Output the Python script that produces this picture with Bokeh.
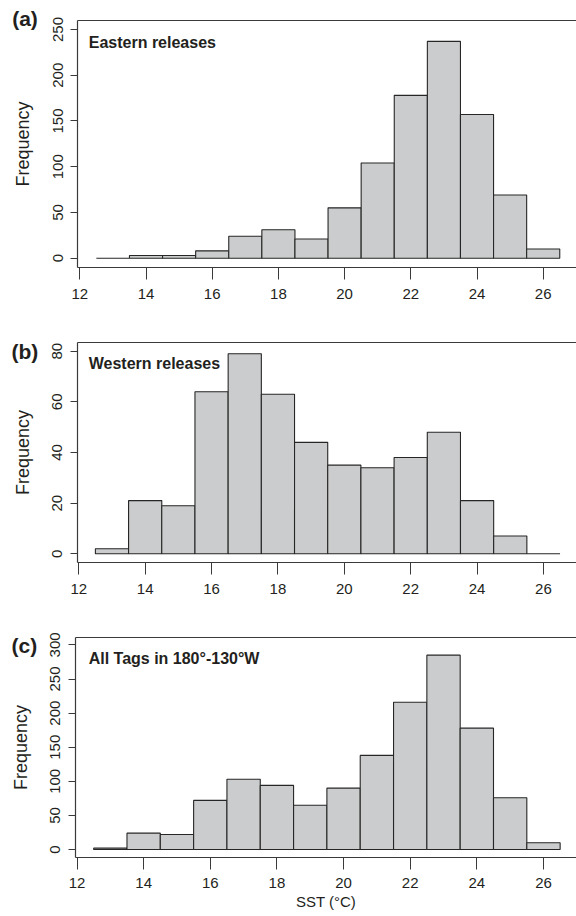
from bokeh.plotting import figure
from bokeh.layouts import column
from bokeh.models import Range1d, FixedTicker, Label, LinearAxis
from bokeh.embed import file_html
from bokeh.resources import INLINE

# SST bins (deg C): left and right edges
bin_left = [12.5, 13.5, 14.5, 15.5, 16.5, 17.5, 18.5, 19.5, 20.5, 21.5, 22.5, 23.5, 24.5, 25.5]
bin_right = [13.5, 14.5, 15.5, 16.5, 17.5, 18.5, 19.5, 20.5, 21.5, 22.5, 23.5, 24.5, 25.5, 26.5]

# Frequencies
east = [0, 3, 3, 8, 24, 31, 21, 55, 104, 178, 237, 157, 69, 10]
west = [2, 21, 19, 64, 79, 63, 44, 35, 34, 38, 48, 21, 7, 0]
alltags = [2, 24, 22, 72, 103, 94, 65, 90, 138, 216, 285, 178, 76, 10]

x_ticks = [12, 14, 16, 18, 20, 22, 24, 26]
y_ticks_a = [0, 50, 100, 150, 200, 250]
y_ticks_b = [0, 20, 40, 60, 80]
y_ticks_c = [0, 50, 100, 150, 200, 250, 300]

FONT = "Liberation Sans"
TXT = "#231f20"
LINE = "#3a3a3a"
FILL = "#cbcccd"
EDGE = "#262626"
W = 576


def panel(counts, yticks, xr, yr, box_x, box_y, height, letter, title,
          letter_xy, title_xy, xlabel=None):
    p = figure(width=W, height=height,
               x_range=Range1d(*xr), y_range=Range1d(*yr),
               x_axis_location=None, y_axis_location=None,
               output_backend="svg", toolbar_location=None,
               min_border=0)
    p.outline_line_color = None
    p.background_fill_color = "white"
    p.border_fill_color = "white"
    p.xgrid.visible = False
    p.ygrid.visible = False

    p.quad(left=bin_left, right=bin_right, bottom=0, top=counts,
           fill_color=FILL, line_color=EDGE, line_width=1.1)

    xax = LinearAxis(fixed_location=box_y[0], bounds=(box_x, xr[1]),
                     ticker=FixedTicker(ticks=x_ticks))
    yax = LinearAxis(fixed_location=box_x, bounds=box_y,
                     ticker=FixedTicker(ticks=yticks))
    top = LinearAxis(fixed_location=box_y[1], bounds=(box_x, xr[1]),
                     ticker=FixedTicker(ticks=[]),
                     major_label_text_font_size="0px",
                     major_tick_out=0, minor_tick_out=0)
    for ax in (xax, yax, top):
        ax.axis_line_color = LINE
        ax.axis_line_width = 1.2
        ax.major_tick_line_color = LINE
        ax.major_tick_line_width = 1
        ax.minor_tick_line_color = None
        ax.major_tick_in = 0
        ax.minor_tick_in = 0
        ax.major_label_text_font = FONT
        ax.major_label_text_color = TXT
        ax.axis_label_text_font = FONT
        ax.axis_label_text_font_style = "normal"
        ax.axis_label_text_color = TXT
    top.major_label_text_font_size = "0px"

    xax.major_label_text_font_size = "15px"
    xax.major_tick_out = 12
    xax.major_label_standoff = 9
    if xlabel:
        xax.axis_label = xlabel
        xax.axis_label_text_font_size = "15px"
        xax.axis_label_standoff = 1

    yax.major_label_text_font_size = "15px"
    yax.major_tick_out = 7
    yax.major_label_standoff = 8
    yax.major_label_orientation = "parallel"
    yax.axis_label = "Frequency"
    yax.axis_label_text_font_size = "18px"
    yax.axis_label_standoff = 17

    p.add_layout(xax, "below")
    p.add_layout(yax, "left")
    p.add_layout(top, "above")

    p.add_layout(Label(x=letter_xy[0], y=letter_xy[1], text=letter,
                       text_font=FONT, text_font_size="21px",
                       text_font_style="bold", text_color=TXT,
                       text_align="left", text_baseline="middle"))
    p.add_layout(Label(x=title_xy[0], y=title_xy[1], text=title,
                       text_font=FONT, text_font_size="16px",
                       text_font_style="bold", text_color=TXT,
                       text_align="left", text_baseline="middle"))
    return p


# panel (a): 33.1 px per deg, 0.9148 px per count
pa = panel(east, y_ticks_a,
           (9.604, 9.604 + W / 33.1), (-57.2, 281.7),
           11.94, (-10.5, 259.8), 310,
           "(a)", "Eastern releases", (9.957, 261.5), (12.27, 236.0))
# panel (b): 33.19 px per deg, 2.5325 px per count
pb = panel(west, y_ticks_b,
           (9.641, 9.641 + W / 33.19), (-19.23, 96.07),
           11.952, (-3.55, 83.3), 292,
           "(b)", "Western releases", (9.972, 80.0), (12.3, 75.0))
# panel (c): 33.32 px per deg, 0.682 px per count
pc = panel(alltags, y_ticks_c,
           (9.704, 9.704 + W / 33.32), (-98.2, 362.2),
           11.955, (-11.3, 311.3), 314,
           "(c)", "All Tags in 180°-130°W", (10.034, 299.0), (12.35, 279.6),
           xlabel="SST (°C)")

layout = column(pa, pb, pc, spacing=0)
open("out.html", "w").write(file_html(layout, INLINE))
